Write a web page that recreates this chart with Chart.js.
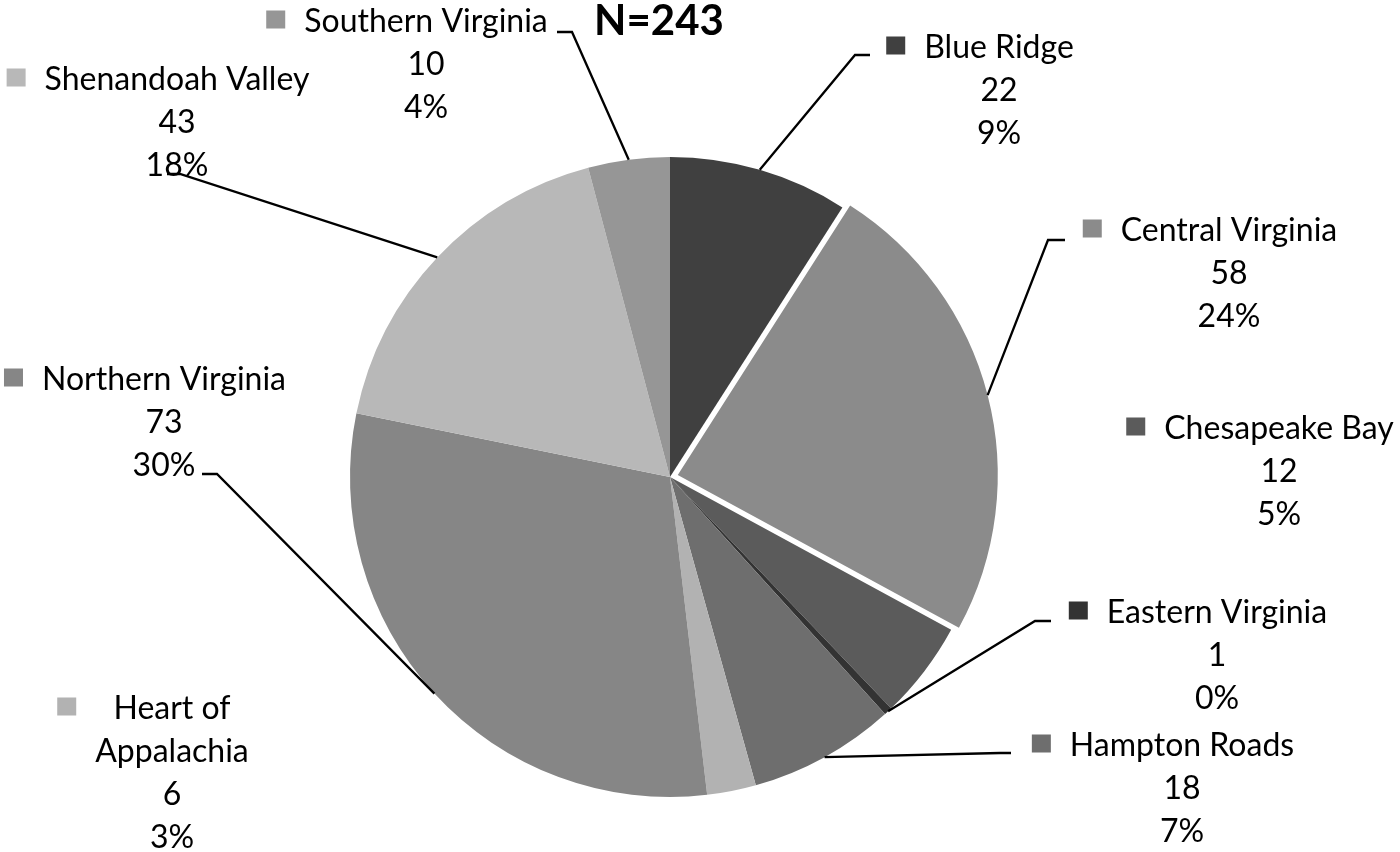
<!DOCTYPE html>
<html>
<head>
<meta charset="utf-8">
<script src="https://cdn.jsdelivr.net/npm/chart.js@4.4.1/dist/chart.umd.min.js"></script>
<style>
  html, body { margin: 0; padding: 0; background: #fff; }
</style>
</head>
<body>
<canvas id="regionPie" width="1400" height="852"></canvas>

<script>
// values
const regions = ['Blue Ridge', 'Central Virginia', 'Chesapeake Bay', 'Eastern Virginia',
                 'Hampton Roads', 'Heart of Appalachia', 'Northern Virginia',
                 'Shenandoah Valley', 'Southern Virginia'];
const counts = [22, 58, 12, 1, 18, 6, 73, 43, 10];
const percents = [9, 24, 5, 0, 7, 3, 30, 18, 4];
const totalLabel = 'N=243';

// styling
const sliceColors = ['#404040', '#8b8b8b', '#5b5b5b', '#333333', '#6e6e6e',
                     '#b2b2b2', '#868686', '#b8b8b8', '#969696'];
const sliceOffsets = [0, 32, 0, 0, 0, 0, 0, 0, 0];

// where each callout sits: text centre, first line centre, optional leader elbow
const callouts = [
    { x: 999,  y: 46,  elbow: [855, 55],  tip: 870 },
    { x: 1229, y: 229, elbow: [1048, 240], tip: 1065 },
    { x: 1279, y: 427 },
    { x: 1217, y: 611, elbow: [1035, 621], tip: 1051 },
    { x: 1182, y: 744, elbow: [1000, 753], tip: 1011 },
    { x: 172,  y: 707, lines: ['Heart of', 'Appalachia'] },
    { x: 164,  y: 378, elbow: [217, 474], tip: 202 },
    { x: 177,  y: 78,  elbow: [180, 174], tip: 167 },
    { x: 426,  y: 20,  elbow: [572, 32],  tip: 557 }
];

const FONT_SIZE = 32;
const LINE_H = 43;
const FONT = FONT_SIZE + 'px Lato, "Open Sans", sans-serif';

const calloutPlugin = {
    id: 'callouts',
    afterDatasetsDraw(chart) {
        const ctx = chart.ctx;
        const arcs = chart.getDatasetMeta(0).data;
        ctx.save();

        // leader lines from the slice edge (mid angle) to the label
        ctx.strokeStyle = '#000';
        ctx.lineWidth = 2.3;
        arcs.forEach(function(arc, i) {
            const c = callouts[i];
            if (!c.elbow) return;
            const mid = (arc.startAngle + arc.endAngle) / 2;
            const shift = (arc.options.offset || 0) / 4;
            const r = arc.outerRadius + shift;
            const px = arc.x + Math.cos(mid) * r;
            const py = arc.y + Math.sin(mid) * r;
            ctx.beginPath();
            ctx.moveTo(px, py);
            ctx.lineTo(c.elbow[0], c.elbow[1]);
            ctx.lineTo(c.tip, c.elbow[1]);
            ctx.stroke();
        });

        // text blocks with a colour key
        ctx.font = FONT;
        ctx.textAlign = 'center';
        ctx.textBaseline = 'alphabetic';
        const capHalf = FONT_SIZE * 0.36;
        regions.forEach(function(name, i) {
            const c = callouts[i];
            const nameLines = c.lines || [name];
            const all = nameLines.concat([String(counts[i]), percents[i] + '%']);
            let maxW = 0;
            nameLines.forEach(function(t) { maxW = Math.max(maxW, ctx.measureText(t).width); });
            all.forEach(function(t, k) {
                ctx.fillStyle = '#000';
                ctx.fillText(t, c.x, c.y + k * LINE_H + capHalf);
            });
            ctx.fillStyle = sliceColors[i];
            ctx.fillRect(c.x - maxW / 2 - 19 - 19, c.y - 9.5, 19, 18);
        });

        // total
        ctx.fillStyle = '#000';
        ctx.font = 'bold 42px Lato, "Open Sans", sans-serif';
        ctx.fillText(totalLabel, 659, 35);
        ctx.restore();
    }
};

var ctx = document.getElementById('regionPie').getContext('2d');
var chart = new Chart(ctx, {
    type: 'pie',
    data: {
        labels: regions,
        datasets: [{
            data: counts,
            backgroundColor: sliceColors,
            borderWidth: 0,
            offset: sliceOffsets,
            radius: 320
        }]
    },
    options: {
        responsive: false,
        animation: false,
        layout: { padding: { left: 0, right: 60, top: 102, bottom: 0 } },
        plugins: {
            legend: { display: false },
            tooltip: { enabled: false }
        }
    },
    plugins: [calloutPlugin]
});
</script>
</body>
</html>
